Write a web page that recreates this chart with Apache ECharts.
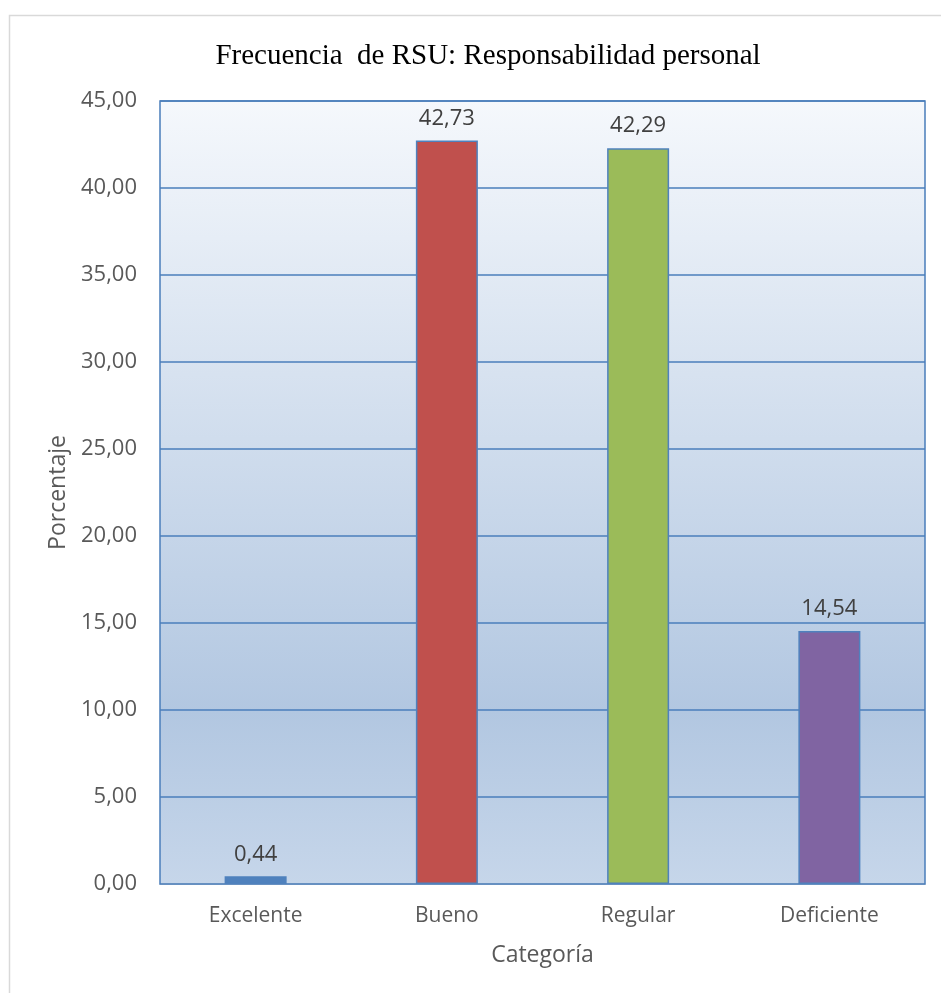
<!DOCTYPE html>
<html>
<head>
<meta charset="utf-8">
<script src="https://cdn.jsdelivr.net/npm/echarts@6/dist/echarts.min.js"></script>
<style>
  html, body { margin: 0; padding: 0; background: #ffffff; }
  #chart { width: 941px; height: 993px; }
</style>
</head>
<body>
<div id="chart"></div>
<script>
// Frecuencia de RSU: Responsabilidad personal
const categories = ['Excelente', 'Bueno', 'Regular', 'Deficiente'];
const porcentajes = [0.44, 42.73, 42.29, 14.54];
const barColors = ['#4f81bd', '#c0504d', '#9bbb59', '#8064a2'];

const fmt = v => v.toFixed(2).replace('.', ',');
const labelFont = '"Open Sans", "Liberation Sans", sans-serif';

const chart = echarts.init(document.getElementById('chart'), null, { renderer: 'canvas' });

chart.setOption({
  animation: false,
  backgroundColor: '#ffffff',
  graphic: [{
    type: 'rect',
    shape: { x: 9.5, y: 15.5, width: 940, height: 990 },
    style: { fill: null, stroke: '#d9d9d9', lineWidth: 1.5 },
    z: -10
  }, {
    type: 'rect',
    shape: { x: 160, y: 101, width: 765, height: 783 },
    style: {
      fill: new echarts.graphic.LinearGradient(0, 0, 0, 1, [
        { offset: 0, color: '#f5f8fc' },
        { offset: 0.78, color: '#b2c7e1' },
        { offset: 1, color: '#c6d6ea' }
      ])
    },
    z: -5
  }],
  title: {
    text: 'Frecuencia  de RSU: Responsabilidad personal',
    left: 483,
    textAlign: 'center',
    top: 37,
    textStyle: {
      fontFamily: '"Liberation Serif", "Times New Roman", serif',
      fontWeight: 'normal',
      fontSize: 29,
      color: '#000000'
    }
  },
  grid: { left: 160, right: 16, top: 101, bottom: 109, containLabel: false, show: false },
  xAxis: {
    type: 'category',
    data: categories,
    name: 'Categoría',
    nameLocation: 'middle',
    nameGap: 60,
    nameTextStyle: { fontFamily: labelFont, fontSize: 23, color: '#595959' },
    axisLine: { show: true, lineStyle: { color: '#d9d9d9', width: 1.5 } },
    axisTick: { show: false },
    axisLabel: { margin: 22, fontFamily: labelFont, fontSize: 21, color: '#595959' }
  },
  yAxis: {
    type: 'value',
    min: 0,
    max: 45,
    interval: 5,
    name: 'Porcentaje',
    nameLocation: 'middle',
    nameGap: 87,
    nameTextStyle: { fontFamily: labelFont, fontSize: 23, color: '#595959' },
    axisLine: { show: false },
    axisTick: { show: false },
    axisLabel: {
      margin: 23,
      fontFamily: labelFont,
      fontSize: 22,
      color: '#595959',
      formatter: v => fmt(v)
    },
    splitLine: { show: true, lineStyle: { color: '#4a7ebb', width: 1.5 } }
  },
  series: [{
    type: 'bar',
    data: porcentajes.map((v, i) => ({
      value: v,
      itemStyle: {
        color: barColors[i],
        borderColor: '#4f81bd',
        borderWidth: 1.5
      }
    })),
    barWidth: 62,
    label: {
      show: true,
      position: 'top',
      distance: 11,
      fontFamily: labelFont,
      fontSize: 22,
      color: '#404040',
      formatter: p => fmt(p.value)
    },
    z: 3
  }, {
    // plot-area outline drawn on top of the gradient
    type: 'custom',
    silent: true,
    renderItem: (params, api) => ({
      type: 'rect',
      shape: {
        x: params.coordSys.x, y: params.coordSys.y,
        width: params.coordSys.width, height: params.coordSys.height
      },
      style: { fill: null, stroke: '#4a7ebb', lineWidth: 1.5 }
    }),
    data: [0],
    z: 1
  }]
});
</script>
</body>
</html>
